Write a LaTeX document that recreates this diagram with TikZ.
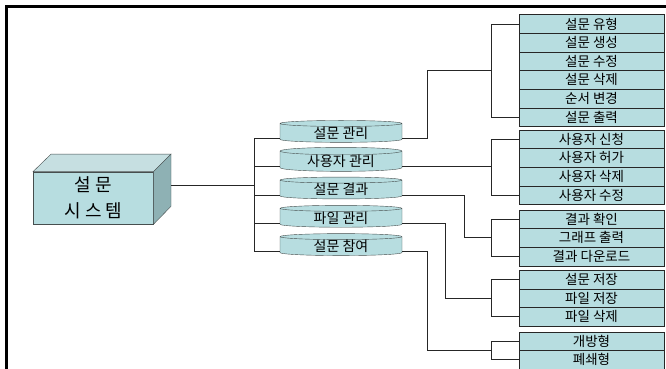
\documentclass[tikz,border=0pt]{standalone}
\usepackage{fontspec}
\setmainfont{Noto Sans CJK KR}
\usetikzlibrary{shapes.geometric,calc}
\definecolor{aqua}{RGB}{183,221,224}
\definecolor{aquatop}{RGB}{198,223,225}
\definecolor{aquaside}{RGB}{142,177,180}
\definecolor{edge}{RGB}{70,78,78}

\begin{document}
\begin{tikzpicture}[x=1pt,y=-1pt,node distance=18.6pt,
item/.style={
rectangle,
draw=black!85,
fill=aqua,
minimum width=145pt,
minimum height=18.6pt,
inner sep=0pt,
font=\fontsize{13.5}{14}\selectfont
},
drum/.style={
cylinder,
shape border rotate=90,
aspect=0.11,
draw=edge,
fill=aqua,
minimum width=122pt,
minimum height=17.5pt,
inner sep=0pt,
font=\fontsize{14}{15}\selectfont
},
link/.style={draw=black!85,line width=0.9pt}
]
\useasboundingbox (0,0) rectangle (666,369);
\draw[line width=2.4pt] (6.5,369) -- (6.5,6.5) -- (666,6.5);

% system box
\node (sys) [rectangle,draw=edge,fill=aqua,minimum width=120pt,minimum height=52.3pt,
  align=center,font=\fontsize{18}{26}\selectfont] at (93.3,197.9) {설 문\\시 스 템};
\filldraw[draw=edge,fill=aquatop] (sys.north west) -- ++(18,-17.5) -- ++(120,0) -- (sys.north east) -- cycle;
\filldraw[draw=edge,fill=aquaside] (sys.north east) -- ++(17.5,-17.5) -- ++(0,52.3) -- (sys.south east) -- cycle;

% middle
\node (mg) [drum] at (341,133) {설문 관리};
\node (us) [drum,below of = mg, node distance=28.3pt] {사용자 관리};
\node (rs) [drum,below of = us, node distance=28.3pt] {설문 결과};
\node (fl) [drum,below of = rs, node distance=28.3pt] {파일 관리};
\node (pt) [drum,below of = fl, node distance=28.3pt] {설문 참여};

% survey
\node (a1) [item] at (591.5,24) {설문 유형};
\node (a2) [item,below of = a1] {설문 생성};
\node (a3) [item,below of = a2] {설문 수정};
\node (a4) [item,below of = a3] {설문 삭제};
\node (a5) [item,below of = a4] {순서 변경};
\node (a6) [item,below of = a5] {설문 출력};
% users
\node (b1) [item] at (591.5,139.3) {사용자 신청};
\node (b2) [item,below of = b1] {사용자 허가};
\node (b3) [item,below of = b2] {사용자 삭제};
\node (b4) [item,below of = b3] {사용자 수정};
% results
\node (c1) [item] at (591.5,219.3) {결과 확인};
\node (c2) [item,below of = c1] {그래프 출력};
\node (c3) [item,below of = c2] {결과 다운로드};
% files
\node (d1) [item] at (591.5,279.5) {설문 저장};
\node (d2) [item,below of = d1] {파일 저장};
\node (d3) [item,below of = d2] {파일 삭제};
% answer
\node (e1) [item] at (591.5,341) {개방형};
\node (e2) [item,below of = e1] {폐쇄형};

% links
\coordinate (sysR) at ($(sys.east)+(17.5,-12.9)$);
\coordinate (bus) at ($(sysR)+(83.3,0)$);
\draw[link] (sysR) -- (bus);
\foreach \n in {mg,us,rs,fl,pt} {
  \coordinate (\n L) at ($(\n.west)+(0,5.5)$);
  \coordinate (\n R) at ($(\n.east)+(0,5.5)$);
  \draw[link] (bus |- \n L) -- (\n L);
}
\draw[link] (bus |- mgL) -- (bus |- ptL);

\coordinate (ja) at ($(a1.west)!.5!(a6.west)+(-27.5,0)$);
\coordinate (jb) at ($(b1.west)!.5!(b4.west)+(-27.5,0)$);
\coordinate (jc) at ($(c1.west)!.5!(c3.west)+(-27.5,0)$);
\coordinate (jd) at ($(d1.west)!.5!(d3.west)+(-27.5,0)$);
\coordinate (je) at ($(e1.west)!.5!(e2.west)+(-27.5,0)$);
\draw[link] (a1.west) -| (ja) |- (a6.west);
\draw[link] (b1.west) -| (jb) |- (b4.west);
\draw[link] (c1.west) -| (jc) |- (c3.west);
\draw[link] (d1.west) -| (jd) |- (d3.west);
\draw[link] (e1.west) -| (je) |- (e2.west);

\draw[link] (mgR) -- ++(25,0) |- (ja);
\draw[link] (usR) -- (usR -| jb);
\draw[link] (rsR) -- ++(62,0) |- (jc);
\draw[link] (flR) -- ++(43.5,0) |- (jd);
\draw[link] (ptR) -- ++(25,0) |- (je);
\end{tikzpicture}
\end{document}
